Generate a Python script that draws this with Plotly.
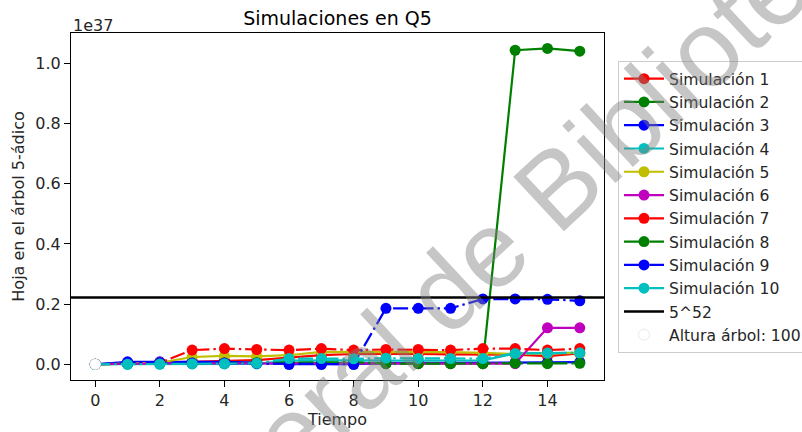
import plotly.graph_objects as go

# Data (values in units of 1e37)
tiempo = list(range(16))
sim1 = [0, 0.003, 0.005, 0.010, 0.012, 0.014, 0.022, 0.030, 0.034, 0.035, 0.034, 0.033, 0.032, 0.032, 0.027, 0.036]
sim2 = [0, 0.002, 0.003, 0.004, 0.004, 0.004, 0.005, 0.005, 0.005, 0.003, 0.003, 0.003, 0.002, 1.044, 1.050, 1.041]
sim3 = [0, 0.008, 0.008, 0.008, 0.008, 0.005, 0.000, 0.000, 0.000, 0.004, 0.004, 0.005, 0.005, 0.006, 0.006, 0.007]
sim4 = [0, 0.000, 0.000, 0.001, 0.001, 0.001, 0.012, 0.013, 0.013, 0.012, 0.012, 0.012, 0.013, 0.036, 0.037, 0.038]
sim5 = [0, 0.002, 0.005, 0.024, 0.028, 0.026, 0.030, 0.041, 0.041, 0.040, 0.040, 0.040, 0.038, 0.034, 0.036, 0.038]
sim6 = [0, 0.002, 0.003, 0.003, 0.003, 0.003, 0.003, 0.003, 0.003, 0.002, 0.002, 0.002, 0.002, 0.002, 0.121, 0.121]
sim7 = [0, 0.003, 0.005, 0.047, 0.052, 0.049, 0.047, 0.052, 0.047, 0.049, 0.049, 0.047, 0.052, 0.052, 0.047, 0.052]
sim8 = [0, 0.002, 0.003, 0.004, 0.004, 0.005, 0.006, 0.006, 0.007, 0.002, 0.002, 0.002, 0.002, 0.004, 0.002, 0.003]
sim9 = [0, 0.005, 0.005, 0.004, 0.004, 0.003, 0.000, 0.000, 0.000, 0.186, 0.186, 0.186, 0.217, 0.217, 0.216, 0.211]
sim10 = [0, 0.000, 0.001, 0.002, 0.002, 0.003, 0.019, 0.019, 0.018, 0.020, 0.019, 0.019, 0.019, 0.036, 0.037, 0.038]
simulaciones = [sim1, sim2, sim3, sim4, sim5, sim6, sim7, sim8, sim9, sim10]
nombres = [f"Simulación {i}" for i in range(1, 11)]
colores = ["#ff0000", "#008000", "#0000ff", "#00bfbf", "#bfbf00", "#bf00bf",
           "#ff0000", "#008000", "#0000ff", "#00bfbf"]
estilos = ["solid"] * 6 + ["15px,4px,2.4px,4px"] * 4

ESCALA = 1e37
umbral = 5 ** 52 / ESCALA
etiqueta_umbral = "5^52"
etiqueta_altura = "Altura árbol: 100"
marca_agua = "General de Bibliotecas"
x_rango = [-0.75, 15.75]
y_rango = [-0.0524, 1.1014]
y_ticks = [0.0, 0.2, 0.4, 0.6, 0.8, 1.0]
x_ticks = [0, 2, 4, 6, 8, 10, 12, 14]

FONT = "DejaVu Sans"
TXT = "#262626"
fig = go.Figure()
for i, (datos, nombre, color, estilo) in enumerate(zip(simulaciones, nombres, colores, estilos)):
    fig.add_trace(go.Scatter(
        x=tiempo, y=datos, name=nombre, mode="lines+markers", legendgroup=f"g{i}",
        line=dict(color=color, width=2.2, dash=estilo),
        marker=dict(color=color, size=11),
    ))
fig.add_trace(go.Scatter(
    x=x_rango, y=[umbral, umbral], name=etiqueta_umbral, mode="lines", legendgroup="g10",
    line=dict(color="black", width=2.4),
))
fig.add_trace(go.Scatter(
    x=[tiempo[0]], y=[0], name=etiqueta_altura, mode="markers", legendgroup="g11",
    marker=dict(color="white", size=11, line=dict(color="rgba(215,220,225,1)", width=0.6)),
))

fig.update_layout(
    width=802, height=432,
    margin=dict(l=71, r=198, t=33, b=52, autoexpand=False),
    paper_bgcolor="white", plot_bgcolor="white",
    font=dict(family=FONT, size=16, color=TXT),
    title=dict(text="Simulaciones en Q5", x=(71 + 604) / 2 / 802, xanchor="center",
               y=1 - 18 / 432, yanchor="middle", font=dict(size=19, color="black")),
    showlegend=True,
    legend=dict(x=(618 - 71) / 533, y=(380 - 61) / 347, xanchor="left", yanchor="top",
                traceorder="grouped", itemwidth=40,
                bordercolor="#cccccc", borderwidth=1, bgcolor="rgba(255,255,255,0.8)",
                font=dict(size=15.6, color=TXT), tracegroupgap=0),
    annotations=[
        dict(text="1e37", xref="paper", yref="paper", x=0, y=1, xanchor="left",
             yanchor="bottom", showarrow=False, yshift=-4, font=dict(size=16, color=TXT)),
        dict(text=marca_agua, xref="paper", yref="paper",
             x=(516 - 71) / 533, y=(380 - 224) / 347, xanchor="center", yanchor="middle",
             showarrow=False, textangle=-43,
             font=dict(family="Liberation Sans", size=108, color="rgba(128,128,128,0.45)")),
    ],
)
fig.update_xaxes(range=x_rango, tickvals=x_ticks, showgrid=False, zeroline=False,
                 showline=True, linecolor="black", linewidth=1.2, mirror=True,
                 ticks="outside", ticklen=6, tickcolor="black",
                 title=dict(text="Tiempo", font=dict(size=16), standoff=2))
fig.update_yaxes(range=y_rango, tickvals=y_ticks, tickformat=".1f", showgrid=False,
                 zeroline=False, showline=True, linecolor="black", linewidth=1.2, mirror=True,
                 ticks="outside", ticklen=6, tickcolor="black",
                 title=dict(text="Hoja en el árbol 5-ádico", font=dict(size=16), standoff=6))
fig.write_html("out.html")
